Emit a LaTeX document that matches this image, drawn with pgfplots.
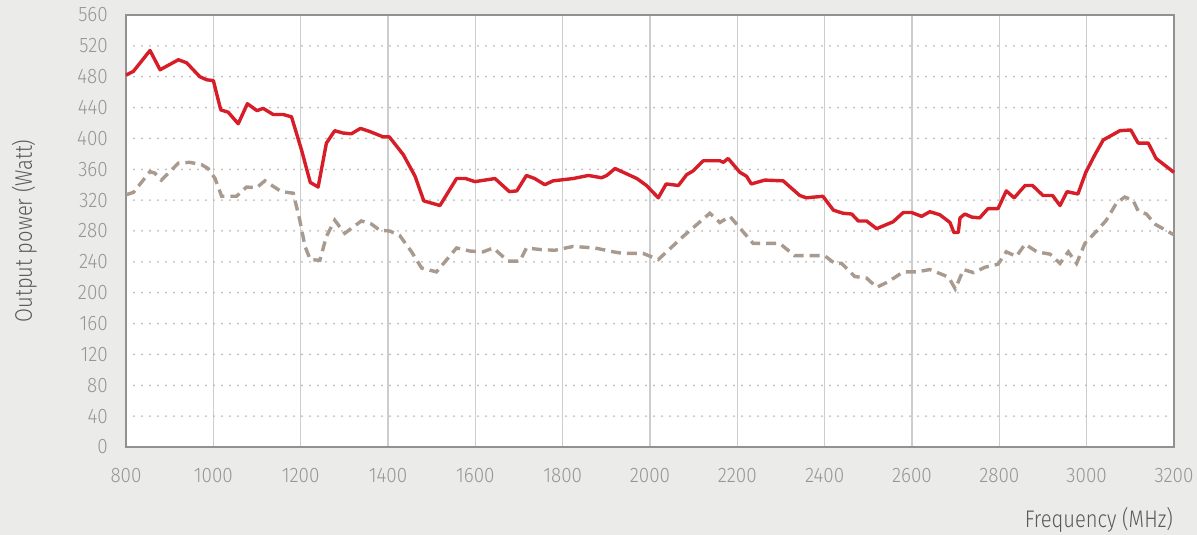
\documentclass[border=0pt]{standalone}
\usepackage{fontspec}
\setmainfont{Fira Sans}[UprightFont=* Light, FakeStretch=0.84]
\newfontfamily\tickfont{Fira Sans}[UprightFont=* Light, FakeStretch=0.9]
\usepackage{pgfplots}
\pgfplotsset{compat=1.18}
\definecolor{bg}{RGB}{235,235,233}
\definecolor{redline}{RGB}{215,30,40}
\definecolor{grayline}{RGB}{168,154,142}
\definecolor{ticktext}{RGB}{150,150,150}
\definecolor{labeltext}{RGB}{90,90,90}
\definecolor{frame}{RGB}{145,145,145}
\definecolor{vgrid}{RGB}{205,205,205}
\definecolor{hgrid}{RGB}{185,185,185}
\begin{document}
\begin{tikzpicture}
\fill[bg] (-126pt,-88pt) rectangle (1071pt,447pt);
\fill[white] (0,0) rectangle (1048pt,432pt);
\begin{axis}[
  at={(0,0)}, anchor=origin,
  scale only axis, width=1048pt, height=432pt,
  xmin=800, xmax=3200, ymin=0, ymax=560,
  xtick={800,1000,...,3200}, ytick={0,40,...,560},
  major tick length=0pt,
  axis line style={frame, line width=2pt},
  xmajorgrids, ymajorgrids,
  major x grid style={vgrid, line width=1.2pt},
  major y grid style={hgrid, line width=2pt, line cap=round, dash pattern=on 0pt off 8pt},
  tick label style={font=\tickfont\fontsize{21}{24}\selectfont, text=ticktext},
  /pgf/number format/assume math mode=true,
  /pgf/number format/set thousands separator={},
  xticklabel style={anchor=north, inner sep=0pt, yshift=-21pt},
  yticklabel style={anchor=east, inner sep=0pt, xshift=-18pt},
  clip=false,
]
\addplot[redline, line width=3.4pt, line join=round] coordinates {
(800,482) (817,487) (855,514) (878,489) (920,502) (939,498) (969,480) (985,476) (1000,475) (1017,437) (1034,434) (1057,419) (1078,445) (1100,436) (1114,439) (1137,431) (1160,431) (1179,428) (1202,385) (1222,343) (1240,337) (1259,394) (1278,410) (1297,407) (1316,406) (1337,413) (1358,409) (1389,402) (1403,402) (1435,379) (1462,351) (1482,319) (1519,313) (1557,348) (1578,348) (1599,344) (1645,348) (1678,331) (1695,332) (1717,352) (1736,348) (1759,340) (1778,345) (1824,348) (1859,352) (1889,349) (1901,352) (1920,361) (1970,348) (1992,339) (2019,323) (2037,341) (2065,339) (2084,353) (2099,358) (2122,371) (2160,371) (2168,369) (2179,374) (2206,356) (2221,351) (2232,341) (2263,346) (2305,345) (2343,326) (2358,323) (2396,325) (2420,307) (2442,303) (2462,302) (2477,293) (2496,293) (2519,283) (2557,292) (2580,304) (2599,304) (2622,299) (2641,305) (2664,301) (2687,291) (2696,278) (2706,278) (2710,297) (2721,302) (2737,298) (2755,297) (2774,309) (2797,309) (2816,332) (2834,323) (2859,339) (2876,339) (2900,326) (2922,326) (2939,313) (2955,331) (2980,328) (2998,356) (3019,379) (3038,398) (3076,410) (3101,411) (3118,394) (3141,394) (3159,374) (3200,356)
};
\addplot[grayline, line width=3.4pt, dash pattern=on 10pt off 6pt] coordinates {
(800,327) (817,330) (855,357) (866,355) (881,346) (920,368) (946,369) (973,366) (988,361) (1004,348) (1019,325) (1053,325) (1076,337) (1099,336) (1118,345) (1156,331) (1183,329) (1198,294) (1210,260) (1222,243) (1244,242) (1259,273) (1278,294) (1301,277) (1339,293) (1362,289) (1381,281) (1404,280) (1427,274) (1454,253) (1477,232) (1511,227) (1557,258) (1588,254) (1618,253) (1641,258) (1675,241) (1702,241) (1717,258) (1748,256) (1782,255) (1824,260) (1874,258) (1916,253) (1938,251) (1984,251) (2019,243) (2076,273) (2137,303) (2160,291) (2183,299) (2236,264) (2297,264) (2331,248) (2400,248) (2423,238) (2439,238) (2469,221) (2496,219) (2519,207) (2545,214) (2580,227) (2610,227) (2641,230) (2672,223) (2684,220) (2699,205) (2718,230) (2741,226) (2767,233) (2797,237) (2816,253) (2839,247) (2859,263) (2886,253) (2916,250) (2939,238) (2958,253) (2977,238) (2996,264) (3023,280) (3045,294) (3068,316) (3087,324) (3106,320) (3118,306) (3137,302) (3156,289) (3200,275)
};
\end{axis}
\node[rotate=90, anchor=base, text=labeltext, font=\fontsize{24}{28}\selectfont, inner sep=0pt] at (-94pt,216pt) {Output power (Watt)};
\node[anchor=base east, text=labeltext, font=\fontsize{24}{28}\selectfont, inner sep=0pt] at (1047pt,-81pt) {Frequency (MHz)};
\pgfresetboundingbox
\path (-126pt,-88pt) rectangle (1071pt,447pt);
\end{tikzpicture}
\end{document}
